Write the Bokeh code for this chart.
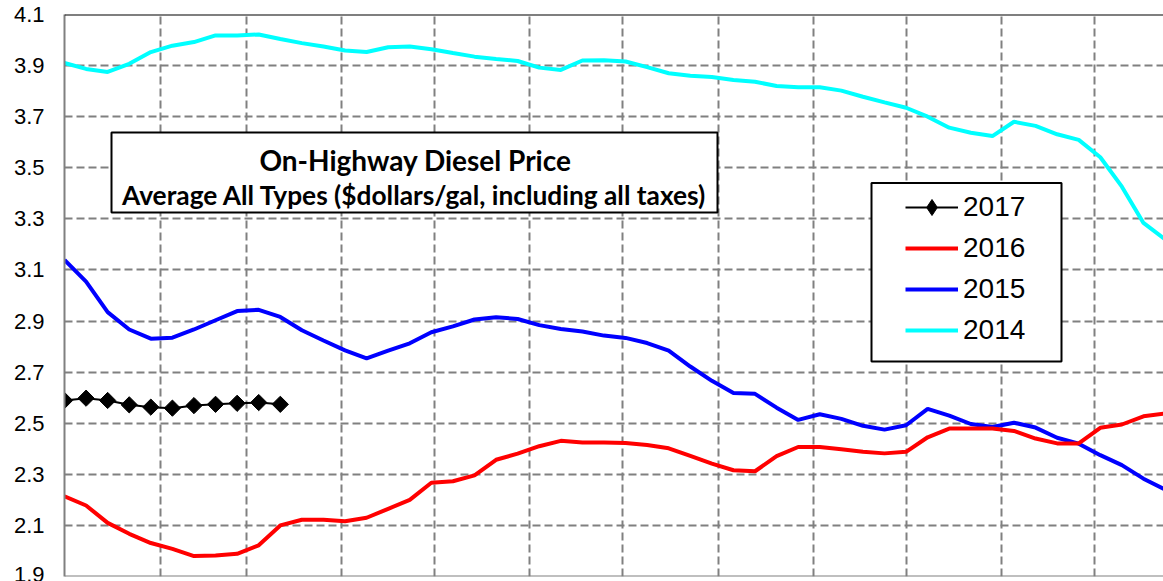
from bokeh.plotting import figure
from bokeh.models import FixedTicker, Span, BoxAnnotation, Label, Legend, LegendItem
from bokeh.embed import file_html
from bokeh.resources import INLINE
import numpy as np

# ---------------- data (weekly prices, $/gal) ----------------
weeks_2014 = list(range(52))
price_2014 = [3.91, 3.887, 3.875, 3.907, 3.953, 3.978, 3.992, 4.018, 4.018, 4.022,
              4.004, 3.988, 3.975, 3.959, 3.953, 3.972, 3.975, 3.964, 3.949, 3.935,
              3.926, 3.918, 3.892, 3.883, 3.920, 3.921, 3.916, 3.894, 3.870, 3.860,
              3.855, 3.844, 3.837, 3.820, 3.815, 3.815, 3.802, 3.778, 3.756, 3.735,
              3.700, 3.657, 3.637, 3.624, 3.680, 3.664, 3.631, 3.609, 3.541, 3.426,
              3.284, 3.220]

weeks_2015 = list(range(52))
price_2015 = [3.139, 3.054, 2.935, 2.867, 2.831, 2.835, 2.867, 2.903, 2.939, 2.944,
              2.916, 2.864, 2.824, 2.785, 2.754, 2.784, 2.813, 2.856, 2.879, 2.906,
              2.915, 2.908, 2.884, 2.869, 2.859, 2.843, 2.834, 2.814, 2.784, 2.722,
              2.666, 2.618, 2.615, 2.561, 2.513, 2.535, 2.517, 2.490, 2.475, 2.492,
              2.556, 2.530, 2.497, 2.485, 2.502, 2.483, 2.443, 2.420, 2.375, 2.336,
              2.283, 2.240]

weeks_2016 = list(range(52))
price_2016 = [2.214, 2.178, 2.110, 2.067, 2.031, 2.008, 1.980, 1.982, 1.989, 2.022,
              2.100, 2.122, 2.122, 2.116, 2.130, 2.165, 2.200, 2.267, 2.273, 2.296,
              2.357, 2.381, 2.410, 2.431, 2.425, 2.425, 2.423, 2.415, 2.402, 2.372,
              2.342, 2.316, 2.312, 2.371, 2.407, 2.407, 2.398, 2.388, 2.382, 2.388,
              2.445, 2.479, 2.479, 2.479, 2.470, 2.440, 2.421, 2.421, 2.482, 2.495,
              2.527, 2.538]

weeks_2017 = list(range(11))
price_2017 = [2.589, 2.598, 2.589, 2.572, 2.563, 2.559, 2.569, 2.574, 2.578, 2.581, 2.574]

series_names = ["2017", "2016", "2015", "2014"]
month_lengths = [31, 28, 31, 30, 31, 30, 31, 31, 30, 31, 30, 31]
y_ticks = [1.9, 2.1, 2.3, 2.5, 2.7, 2.9, 3.1, 3.3, 3.5, 3.7, 3.9, 4.1]
y_tick_labels = ["1.9", "2.1", "2.3", "2.5", "2.7", "2.9", "3.1", "3.3", "3.5", "3.7", "3.9", "4.1"]
title_line1 = "On-Highway Diesel Price"
title_line2 = "Average All Types ($dollars/gal, including all taxes)"

DAYS_PER_WEEK = 7
def to_day(weeks):
    return [w * DAYS_PER_WEEK for w in weeks]

month_ends = [int(v) for v in np.cumsum(month_lengths)[:-1]]

# ---------------- layout ----------------
W, H = 1163, 581
XMAX = 356.5
Y0, Y1 = 1.9, 4.1
# pixel geometry of the frame inside the canvas
FL, FT, FR, FB = 64, 14, 1163, 576

def dx(px):
    return (px - FL) / (FR - FL) * XMAX

def dy(py):
    return Y1 - (py - FT) / (FB - FT) * (Y1 - Y0)

p = figure(width=W, height=H, output_backend="svg", toolbar_location=None,
           x_range=(0, XMAX), y_range=(Y0, Y1),
           min_border_left=FL, min_border_top=FT,
           min_border_right=W - FR, min_border_bottom=H - FB)
p.outline_line_color = None
p.background_fill_color = "white"
p.border_fill_color = "white"

p.xaxis.visible = False
p.xgrid.ticker = FixedTicker(ticks=month_ends)
p.yaxis.ticker = FixedTicker(ticks=y_ticks)
p.yaxis.major_label_overrides = {t: l for t, l in zip(y_ticks, y_tick_labels)}
p.yaxis.major_tick_line_color = None
p.yaxis.minor_tick_line_color = None
p.yaxis.major_tick_out = 0
p.yaxis.major_tick_in = 0
p.yaxis.axis_line_color = "#808080"
p.yaxis.axis_line_width = 2
p.yaxis.major_label_standoff = 20
p.yaxis.major_label_text_font = "Liberation Sans"
p.yaxis.major_label_text_font_size = "22px"
p.yaxis.major_label_text_color = "black"

for g in (p.xgrid, p.ygrid):
    g.grid_line_color = "#808080"
    g.grid_line_width = 2
    g.grid_line_dash = "8 4"

# borders
p.add_layout(Span(location=Y1, dimension="width", line_color="black", line_width=2))
p.add_layout(Span(location=Y0, dimension="width", line_color="#808080", line_width=2))

# series
r14 = p.line(to_day(weeks_2014), price_2014, line_color="#00FFFF", line_width=4)
r15 = p.line(to_day(weeks_2015), price_2015, line_color="#0000FF", line_width=4)
r16 = p.line(to_day(weeks_2016), price_2016, line_color="#FF0000", line_width=4)
r17 = p.line(to_day(weeks_2017), price_2017, line_color="black", line_width=2)
# diamond key for the legend (legend markers are drawn unrotated); it sits
# underneath the first 2017 marker, so it is hidden in the plot itself
r17_key = p.scatter(to_day(weeks_2017[:1]), price_2017[:1], marker="diamond",
                    size=15, fill_color="black", line_color="black")
r17m = p.scatter(to_day(weeks_2017), price_2017, marker="square", angle=np.pi / 4,
                 size=11.5, fill_color="black", line_color="black")

# title box
p.add_layout(BoxAnnotation(left=dx(111), right=dx(717), top=dy(132), bottom=dy(212),
                           fill_color="white", fill_alpha=1, line_color="black",
                           line_width=2, line_alpha=1))
p.add_layout(Label(x=dx(415), y=dy(159), text=title_line1, text_font="Lato",
                   text_font_style="bold", text_font_size="28px", text_align="center",
                   text_baseline="middle", text_color="black"))
p.add_layout(Label(x=dx(414), y=dy(194), text=title_line2, text_font="Lato",
                   text_font_style="bold", text_font_size="26.3px", text_align="center",
                   text_baseline="middle", text_color="black"))

# legend box + legend
p.add_layout(BoxAnnotation(left=dx(871), right=dx(1061), top=dy(182.5), bottom=dy(361),
                           fill_color="white", fill_alpha=1, line_color="black",
                           line_width=2, line_alpha=1))
legend = Legend(items=[LegendItem(label=series_names[0], renderers=[r17, r17_key]),
                       LegendItem(label=series_names[1], renderers=[r16]),
                       LegendItem(label=series_names[2], renderers=[r15]),
                       LegendItem(label=series_names[3], renderers=[r14])],
                location=(905 - FL, FB - 350), padding=0, margin=0, spacing=1,
                glyph_width=53, glyph_height=40, label_height=40, label_standoff=5,
                border_line_color=None, background_fill_alpha=0,
                label_text_font="Liberation Sans", label_text_font_size="28px",
                label_text_color="black")
p.add_layout(legend)

open("out.html", "w").write(file_html(p, INLINE))
